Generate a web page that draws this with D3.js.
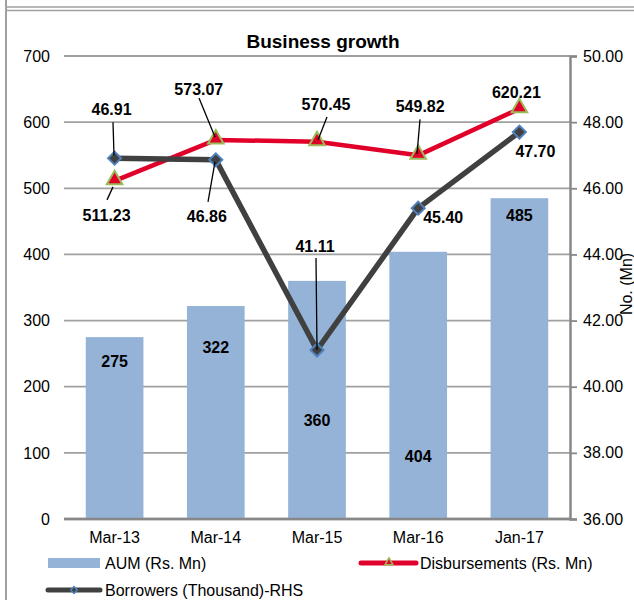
<!DOCTYPE html>
<html>
<head>
<meta charset="utf-8">
<script src="https://cdn.jsdelivr.net/npm/d3@7"></script>
<style>
  body { margin: 0; background: #fff; }
  text { font-family: "Liberation Sans", Arial, sans-serif; fill: #000; }
  .tick-label { font-size: 16px; }
  .data-label { font-size: 16px; font-weight: bold; }
</style>
</head>
<body>
<div id="chart"></div>
<script>
// DATA
////////////////////////////
var categories = ["Mar-13", "Mar-14", "Mar-15", "Mar-16", "Jan-17"];
var aum = [275, 322, 360, 404, 485];                       // Rs. Mn, left axis
var disbursements = [511.23, 573.07, 570.45, 549.82, 620.21]; // Rs. Mn, left axis
var borrowers = [46.91, 46.86, 41.11, 45.40, 47.70];       // thousand, right axis
var leftTicks = [0, 100, 200, 300, 400, 500, 600, 700];
var rightTicks = [36, 38, 40, 42, 44, 46, 48, 50];

// label placement (hand tweaked, like the excel original)
var aumLabelDy = [24, 41, 139, 204, 17];
var disbLabelOff = [[-8, 34], [-17, -51], [9, -37], [2, -49], [-3, -17]];
var disbLeader = [[-7.6, 19, -1.6, 6], [-16.8, -42, -0.8, -3], [10, -24.7, 1, -1.7], [1.8, -36, -1.2, -1.3], null];
var borrLabelOff = [[-3, -49], [-9, 56], [-2, -104], [25, 9], [16, 19]];
var borrLeader = [[-1.6, -36, -0.6, -3], [-7.8, 42, -0.8, 2], [-1, -92, 0, 0], null, null];

// SETUP
////////////////////////////
var width = 634,
    height = 600;

var svg = d3.select("#chart").append("svg")
    .attr("width", width)
    .attr("height", height);

var grey = "#a0a0a0";

// outer frame (just the bits visible in the screenshot)
svg.append("line").attr("x1", 6).attr("x2", 6).attr("y1", 0).attr("y2", height)
    .attr("stroke", grey).attr("stroke-width", 2);
svg.append("line").attr("x1", 6).attr("x2", width).attr("y1", 7).attr("y2", 7)
    .attr("stroke", grey).attr("stroke-width", 1.5);
svg.append("line").attr("x1", 6).attr("x2", width).attr("y1", 10.5).attr("y2", 10.5)
    .attr("stroke", grey).attr("stroke-width", 1.5);

var plotLeft = 64, plotRight = 570, plotTop = 56, plotBottom = 519;

var x = d3.scaleBand()
    .domain(categories)
    .range([plotLeft, plotRight])
    .paddingInner(0.43)
    .paddingOuter(0.215);

var yL = d3.scaleLinear().domain([0, 700]).range([plotBottom, plotTop]);
var yR = d3.scaleLinear().domain([36, 50]).range([plotBottom, plotTop]);

function cx(d, i) { return x(categories[i]) + x.bandwidth() / 2; }

// title
svg.append("text")
    .attr("x", 323).attr("y", 48)
    .attr("text-anchor", "middle")
    .style("font-size", "19px").style("font-weight", "bold")
    .text("Business growth");

// gridlines (left axis)
svg.append("g")
  .selectAll("line")
  .data(leftTicks)
  .enter().append("line")
    .attr("x1", plotLeft).attr("x2", plotRight)
    .attr("y1", function(d) { return yL(d); })
    .attr("y2", function(d) { return yL(d); })
    .attr("stroke", grey)
    .attr("stroke-width", function(d) { return d === 0 ? 2.5 : 1.8; });

// left tick labels
svg.append("g")
  .selectAll("text")
  .data(leftTicks)
  .enter().append("text")
    .attr("class", "tick-label")
    .attr("x", 50)
    .attr("y", function(d) { return yL(d); })
    .attr("dy", "0.36em")
    .attr("text-anchor", "end")
    .text(function(d) { return d; });

// right axis
var rAxis = d3.axisRight(yR)
    .tickValues(rightTicks)
    .tickSize(7)
    .tickPadding(6)
    .tickFormat(d3.format(".2f"));

var rg = svg.append("g")
    .attr("transform", "translate(" + plotRight + ",0)")
    .call(rAxis);
rg.select(".domain").attr("stroke", "#888").attr("stroke-width", 2.5);
rg.selectAll(".tick line").attr("stroke", "#888").attr("stroke-width", 1.8);
rg.selectAll(".tick text")
    .attr("class", "tick-label")
    .style("font-size", "16px")
    .style("font-family", "Liberation Sans, Arial, sans-serif")
    .attr("fill", "#000");

// right axis title
svg.append("text")
    .attr("transform", "translate(632,284) rotate(-90)")
    .attr("text-anchor", "middle")
    .style("font-size", "16px")
    .text("No. (Mn)");

// x labels
svg.append("g")
  .selectAll("text")
  .data(categories)
  .enter().append("text")
    .attr("class", "tick-label")
    .attr("x", function(d) { return x(d) + x.bandwidth() / 2; })
    .attr("y", 543)
    .attr("text-anchor", "middle")
    .text(function(d) { return d; });

// AUM bars
svg.append("g")
  .selectAll("rect")
  .data(aum)
  .enter().append("rect")
    .attr("x", function(d, i) { return x(categories[i]); })
    .attr("width", x.bandwidth())
    .attr("y", function(d) { return yL(d); })
    .attr("height", function(d) { return yL(0) - yL(d); })
    .attr("fill", "#95b3d7");

// keep the 0 line above the bars
svg.append("line")
    .attr("x1", plotLeft).attr("x2", plotRight)
    .attr("y1", yL(0)).attr("y2", yL(0))
    .attr("stroke", "#888").attr("stroke-width", 2.5);

svg.append("g")
  .selectAll("text")
  .data(aum)
  .enter().append("text")
    .attr("class", "data-label")
    .attr("x", cx)
    .attr("y", function(d, i) { return yL(d) + aumLabelDy[i]; })
    .attr("dy", "0.36em")
    .attr("text-anchor", "middle")
    .text(function(d) { return d; });

// Disbursements line
var disbLine = d3.line()
    .x(cx)
    .y(function(d) { return yL(d); });

svg.append("path")
    .datum(disbursements)
    .attr("d", disbLine)
    .attr("fill", "none")
    .attr("stroke", "#e0002a")
    .attr("stroke-width", 4.5)
    .attr("stroke-linejoin", "round");

// Borrowers line
var borrLine = d3.line()
    .x(cx)
    .y(function(d) { return yR(d); });

svg.append("path")
    .datum(borrowers)
    .attr("d", borrLine)
    .attr("fill", "none")
    .attr("stroke", "#404040")
    .attr("stroke-width", 5.5)
    .attr("stroke-linejoin", "round");

var tri = d3.symbol().type(d3.symbolTriangle).size(105);
var dia = d3.symbol().type(d3.symbolSquare).size(85);

svg.append("g")
  .selectAll("path")
  .data(disbursements)
  .enter().append("path")
    .attr("d", tri)
    .attr("transform", function(d, i) { return "translate(" + cx(d, i) + "," + (yL(d) - 1) + ")"; })
    .attr("fill", "#e0002a")
    .attr("stroke", "#9bbb59")
    .attr("stroke-width", 2);

svg.append("g")
  .selectAll("path")
  .data(borrowers)
  .enter().append("path")
    .attr("d", dia)
    .attr("transform", function(d, i) { return "translate(" + cx(d, i) + "," + yR(d) + ") rotate(45)"; })
    .attr("fill", "#404040")
    .attr("stroke", "#4f81bd")
    .attr("stroke-width", 2);

// leader lines + labels
function drawLabels(vals, scale, offs, leaders) {
  var g = svg.append("g");
  vals.forEach(function(v, i) {
    var px = cx(v, i), py = scale(v);
    var L = leaders[i];
    if (L) {
      g.append("line")
          .attr("x1", px + L[0]).attr("y1", py + L[1])
          .attr("x2", px + L[2]).attr("y2", py + L[3])
          .attr("stroke", "#000").attr("stroke-width", 1.3);
    }
    g.append("text")
        .attr("class", "data-label")
        .attr("x", px + offs[i][0])
        .attr("y", py + offs[i][1])
        .attr("dy", "0.36em")
        .attr("text-anchor", "middle")
        .text(v.toFixed(2));
  });
}
drawLabels(disbursements, yL, disbLabelOff, disbLeader);
drawLabels(borrowers, yR, borrLabelOff, borrLeader);

// LEGEND
////////////////////////////
var lg = svg.append("g").style("font-size", "16px");

lg.append("rect").attr("x", 48).attr("y", 558).attr("width", 52).attr("height", 10)
    .attr("fill", "#95b3d7");
lg.append("text").attr("x", 105).attr("y", 569).text("AUM (Rs. Mn)");

lg.append("line").attr("x1", 361).attr("x2", 416).attr("y1", 563).attr("y2", 563)
    .attr("stroke", "#e0002a").attr("stroke-width", 5).attr("stroke-linecap", "round");
lg.append("path").attr("d", d3.symbol().type(d3.symbolTriangle).size(28))
    .attr("transform", "translate(389,562.5)")
    .attr("fill", "#e0002a").attr("stroke", "#9bbb59").attr("stroke-width", 1.5);
lg.append("text").attr("x", 420).attr("y", 569).text("Disbursements (Rs. Mn)");

lg.append("line").attr("x1", 48).attr("x2", 100).attr("y1", 590).attr("y2", 590)
    .attr("stroke", "#404040").attr("stroke-width", 5).attr("stroke-linecap", "round");
lg.append("path").attr("d", d3.symbol().type(d3.symbolSquare).size(22))
    .attr("transform", "translate(74,590) rotate(45)")
    .attr("fill", "#404040").attr("stroke", "#4f81bd").attr("stroke-width", 1.5);
lg.append("text").attr("x", 105).attr("y", 596).text("Borrowers (Thousand)-RHS");
</script>
</body>
</html>
